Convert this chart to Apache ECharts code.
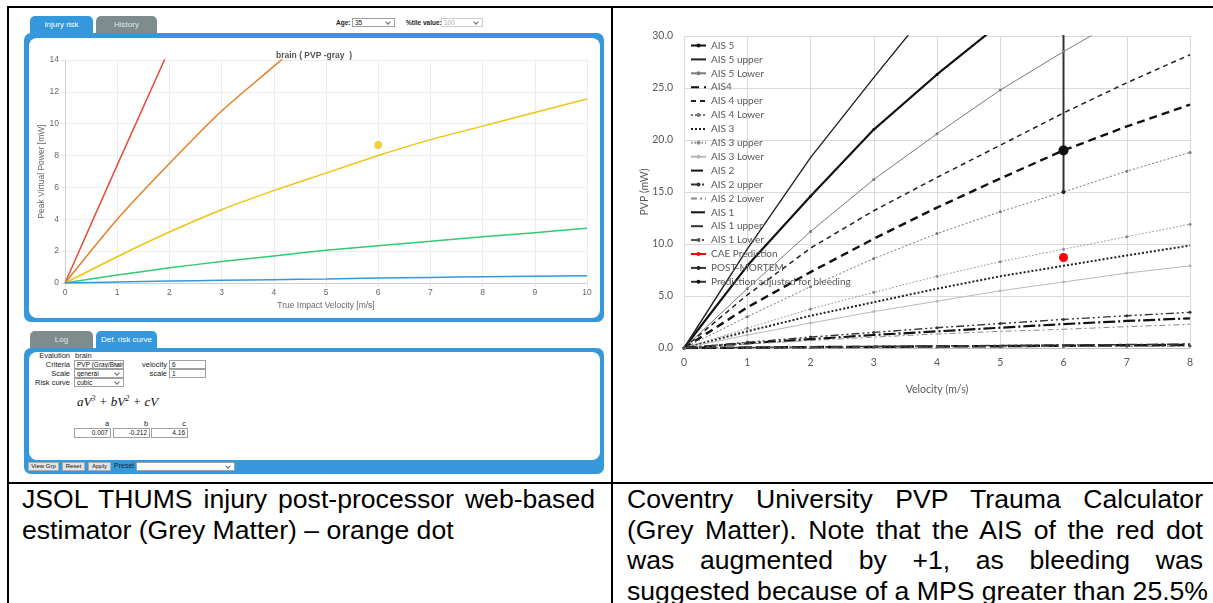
<!DOCTYPE html>
<html>
<head>
<meta charset="utf-8">
<script src="https://cdn.jsdelivr.net/npm/echarts@6/dist/echarts.min.js"></script>
<style>
html, body { margin: 0; padding: 0; background: #fff; }
body { width: 1213px; height: 603px; position: relative; overflow: hidden; font-family: "Liberation Sans", Arial, sans-serif; }
.ln { position: absolute; background: #000; }
.tab { position: absolute; height: 17px; border-radius: 5px 5px 0 0; color: #fff; font-size: 8px; text-align: center; line-height: 17px; }
.blue { background: #3498db; }
.grey { background: #7f8c8d; color: #dfe6e6; }
.panel { position: absolute; background: #3498db; border-radius: 7px; }
.inner { position: absolute; background: #fff; border-radius: 8px; }
.sel { position: absolute; border: 1px solid #a0a0a0; background: #fff; font-size: 6.5px; line-height: 7px; padding-left: 2px; box-sizing: border-box; color: #111; overflow: hidden; white-space: nowrap; }
.sel:after { content: ""; position: absolute; right: 4px; top: 1px; width: 3px; height: 3px; border-right: 1px solid #666; border-bottom: 1px solid #666; transform: rotate(45deg); }
.inp { position: absolute; border: 1px solid #a0a0a0; background: #fff; font-size: 6.5px; line-height: 7px; box-sizing: border-box; color: #111; padding: 0 2px; }
.lbl { position: absolute; font-size: 7.5px; color: #222; white-space: nowrap; line-height: 9px; }
.btn { position: absolute; background: #e4e4e4; border: 1px solid #aaa; box-sizing: border-box; font-size: 6px; line-height: 7px; text-align: center; color: #111; }
.cap { position: absolute; font-size: 26.6px; line-height: 30.5px; color: #000; white-space: nowrap; }
.just { text-align: justify; text-align-last: justify; }
.formula { position: absolute; font-family: "Liberation Serif", serif; font-style: italic; font-size: 13px; color: #111; white-space: nowrap; }
.formula sup { font-size: 8px; vertical-align: 5px; line-height: 0; }
</style>
</head>
<body>

<!-- table rules -->
<div class="ln" style="left:7px;top:6px;width:1206px;height:2px;"></div>
<div class="ln" style="left:7px;top:6px;width:2px;height:597px;"></div>
<div class="ln" style="left:611px;top:6px;width:2px;height:597px;"></div>
<div class="ln" style="left:7px;top:482px;width:1206px;height:2px;"></div>

<!-- upper panel: injury risk -->
<div class="tab blue" style="left:30px;top:16px;width:63px;">Injury risk</div>
<div class="tab grey" style="left:96px;top:16px;width:61px;">History</div>
<div class="lbl" style="left:336px;top:18px;font-size:6.5px;font-weight:bold;">Age:</div>
<div class="sel" style="left:352px;top:18px;width:43px;height:9px;">35</div>
<div class="lbl" style="left:406px;top:18px;font-size:6.5px;font-weight:bold;">%tile value:</div>
<div class="sel" style="left:441px;top:18px;width:42px;height:9px;border-color:#ccc;color:#aaa;">100</div>
<div class="panel" style="left:24px;top:33px;width:580px;height:289px;"></div>
<div class="inner" style="left:29px;top:38px;width:571px;height:280px;"></div>
<div id="left" style="position:absolute;left:28px;top:38px;width:572px;height:280px;"></div>

<!-- lower panel: risk curve definition -->
<div class="tab grey" style="left:30px;top:331px;width:63px;">Log</div>
<div class="tab blue" style="left:96px;top:331px;width:61px;">Def. risk curve</div>
<div class="panel" style="left:24px;top:348px;width:580px;height:126px;"></div>
<div class="inner" style="left:29px;top:352px;width:571px;height:108px;"></div>
<div class="lbl" style="left:20px;top:351px;width:50px;text-align:right;">Evalution</div>
<div class="lbl" style="left:75px;top:351px;">brain</div>
<div class="lbl" style="left:20px;top:360px;width:50px;text-align:right;">Criteria</div>
<div class="sel" style="left:74px;top:360px;width:50px;height:9px;">PVP (Gray/Brain</div>
<div class="lbl" style="left:20px;top:369px;width:50px;text-align:right;">Scale</div>
<div class="sel" style="left:74px;top:369px;width:50px;height:9px;">general</div>
<div class="lbl" style="left:20px;top:378px;width:50px;text-align:right;">Risk curve</div>
<div class="sel" style="left:74px;top:378px;width:50px;height:9px;">cubic</div>
<div class="lbl" style="left:120px;top:360px;width:47px;text-align:right;">velocity</div>
<div class="inp" style="left:169px;top:360px;width:37px;height:9px;">6</div>
<div class="lbl" style="left:120px;top:369px;width:47px;text-align:right;">scale</div>
<div class="inp" style="left:169px;top:369px;width:37px;height:9px;">1</div>
<div class="formula" style="left:77px;top:394px;">aV<sup>3</sup> + bV<sup>2</sup> + cV</div>
<div class="lbl" style="left:74px;top:419px;width:36px;text-align:center;padding-left:30px;box-sizing:border-box;">a</div>
<div class="lbl" style="left:113px;top:419px;width:36px;text-align:center;padding-left:30px;box-sizing:border-box;">b</div>
<div class="lbl" style="left:151px;top:419px;width:36px;text-align:center;padding-left:30px;box-sizing:border-box;">c</div>
<div class="inp" style="left:74px;top:428px;width:37px;height:10px;text-align:right;line-height:8px;">0.007</div>
<div class="inp" style="left:113px;top:428px;width:37px;height:10px;text-align:right;line-height:8px;">-0.212</div>
<div class="inp" style="left:151px;top:428px;width:37px;height:10px;text-align:right;line-height:8px;">4.16</div>
<div class="btn" style="left:28px;top:462px;width:31px;height:9px;">View Grp</div>
<div class="btn" style="left:62px;top:462px;width:23px;height:9px;">Reset</div>
<div class="btn" style="left:88px;top:462px;width:23px;height:9px;">Apply</div>
<div class="lbl" style="left:114px;top:461px;font-size:7px;color:#1a2a3a;">Preset</div>
<div class="sel" style="left:136px;top:462px;width:99px;height:9px;"></div>

<!-- right chart -->
<div id="right" style="position:absolute;left:613px;top:9px;width:598px;height:470px;"></div>

<!-- captions -->
<div class="cap just" style="left:22px;top:484px;width:573px;">JSOL THUMS injury post-processor web-based</div>
<div class="cap" style="left:22px;top:514.5px;">estimator (Grey Matter) – orange dot</div>
<div class="cap just" style="left:627px;top:484px;width:576px;">Coventry University PVP Trauma Calculator</div>
<div class="cap just" style="left:627px;top:514.5px;width:576px;">(Grey Matter). Note that the AIS of the red dot</div>
<div class="cap just" style="left:627px;top:545px;width:576px;">was augmented by +1, as bleeding was</div>
<div class="cap just" style="left:627px;top:575.5px;width:576px;">suggested because of a MPS greater than 25.5%</div>

<script>
// ---- left chart (JSOL web estimator) ----
var jsolVel = [0, 1, 2, 3, 4, 5, 6, 7, 8, 9, 10];
var jsolRed = [0, 7.4, 14.7];
var jsolOrange = [0, 4.0, 7.5, 10.8, 13.6, 16.4];
var jsolYellow = [0, 1.65, 3.2, 4.6, 5.8, 6.9, 8.0, 9.0, 9.85, 10.7, 11.55];
var jsolGreen = [0, 0.5, 0.95, 1.35, 1.7, 2.05, 2.34, 2.62, 2.9, 3.16, 3.43];
var jsolBlue = [0, 0.07, 0.12, 0.17, 0.21, 0.25, 0.31, 0.35, 0.39, 0.43, 0.46];
var jsolDot = [6, 8.66];

// ---- right chart (Coventry PVP calculator) ----
var velocity = [0, 1, 2, 3, 4, 5, 6, 7, 8];
var ais5 = [0, 7.9, 14.6, 21.0, 26.3, 31.2];
var ais5Upper = [0, 9.5, 18.3, 26.0, 33.5];
var ais5Lower = [0, 5.7, 11.2, 16.2, 20.6, 24.8, 28.5, 32.0];
var ais4 = [0, 3.9, 7.3, 10.5, 13.5, 16.3, 19.0, 21.3, 23.4];
var ais4Upper = [0, 5.1, 9.6, 13.2, 16.4, 19.5, 22.6, 25.5, 28.2];
var ais4Lower = [0, 3.0, 5.9, 8.6, 11.0, 13.1, 15.0, 17.0, 18.8];
var ais3 = [0, 1.6, 3.1, 4.4, 5.7, 6.9, 7.9, 8.9, 9.85];
var ais3Upper = [0, 1.9, 3.75, 5.35, 6.9, 8.3, 9.5, 10.7, 11.9];
var ais3Lower = [0, 1.25, 2.4, 3.5, 4.5, 5.5, 6.35, 7.2, 7.9];
var ais2 = [0, 0.45, 0.85, 1.25, 1.6, 1.95, 2.3, 2.6, 2.85];
var ais2Upper = [0, 0.55, 1.05, 1.5, 1.95, 2.35, 2.75, 3.1, 3.43];
var ais2Lower = [0, 0.38, 0.72, 1.05, 1.35, 1.6, 1.8, 2.05, 2.28];
var ais1 = [0, 0.04, 0.08, 0.11, 0.15, 0.18, 0.22, 0.26, 0.29];
var ais1Upper = [0, 0.05, 0.1, 0.15, 0.2, 0.24, 0.29, 0.33, 0.38];
var ais1Lower = [0, 0.03, 0.05, 0.08, 0.1, 0.12, 0.14, 0.17, 0.19];
var caePrediction = [[6, 8.7]];
var postMortem = [[6, 15.0], [6, 31]];
var adjustedBleeding = [[6, 19.0]];

function pairs(xs, ys) {
    return ys.map(function (y, i) { return [xs[i], y]; });
}

var leftChart = echarts.init(document.getElementById('left'));
function jsolLine(name, vals, color) {
    return {
        name: name, type: 'line', data: pairs(jsolVel, vals), smooth: 0.2,
        symbol: 'none', lineStyle: { color: color, width: 1.5 }, clip: true
    };
}
leftChart.setOption({
    animation: false,
    title: {
        text: 'brain ( PVP -gray  )', left: 243, top: 8,
        textStyle: { fontSize: 8.5, fontWeight: 'bold', color: '#555', fontFamily: 'Liberation Sans' }
    },
    grid: { left: 37, right: 13, top: 22, bottom: 35, containLabel: false, outerBoundsMode: 'none' },
    xAxis: {
        type: 'value', min: 0, max: 10, interval: 1,
        name: 'True Impact Velocity [m/s]', nameLocation: 'middle', nameGap: 18,
        nameMoveOverlap: false,
        nameTextStyle: { fontSize: 8.5, color: '#666', fontFamily: 'Liberation Sans' },
        axisLine: { lineStyle: { color: '#cfcfcf' } },
        axisTick: { show: true, length: 4, lineStyle: { color: '#e2e2e2' } },
        axisLabel: { fontSize: 8.5, color: '#666', margin: 5, fontFamily: 'Liberation Sans' },
        splitLine: { lineStyle: { color: '#ececec' } }
    },
    yAxis: {
        type: 'value', min: 0, max: 14, interval: 2,
        name: 'Peak Virtual Power [mW]', nameLocation: 'middle', nameGap: 19,
        nameMoveOverlap: false,
        nameTextStyle: { fontSize: 8.5, color: '#666', fontFamily: 'Liberation Sans' },
        axisLine: { show: true, lineStyle: { color: '#cfcfcf' } },
        axisTick: { show: true, length: 4, lineStyle: { color: '#e2e2e2' } },
        axisLabel: { fontSize: 8.5, color: '#666', margin: 6, fontFamily: 'Liberation Sans' },
        splitLine: { lineStyle: { color: '#ececec' } }
    },
    series: [
        jsolLine('red', jsolRed, '#e74c3c'),
        jsolLine('orange', jsolOrange, '#e67e22'),
        jsolLine('yellow', jsolYellow, '#f1c40f'),
        jsolLine('green', jsolGreen, '#2ecc71'),
        jsolLine('blue', jsolBlue, '#3498db'),
        {
            name: 'case', type: 'scatter', data: [jsolDot], symbolSize: 8,
            itemStyle: { color: '#f1c40f' }
        }
    ]
});

var rightChart = echarts.init(document.getElementById('right'));
function aisLine(name, vals, width, color, dash, marker) {
    return {
        name: name, type: 'line', data: pairs(velocity, vals), clip: true,
        symbol: marker ? 'circle' : 'none', symbolSize: 3, showSymbol: !!marker,
        itemStyle: { color: color },
        lineStyle: { color: color, width: width, type: dash }
    };
}
var aisSeries = [
    aisLine('AIS 5', ais5, 2.2, '#111', 'solid', true),
    aisLine('AIS 5 upper', ais5Upper, 1.4, '#222', 'solid', false),
    aisLine('AIS 5 Lower', ais5Lower, 1, '#7a7a7a', 'solid', true),
    aisLine('AIS4', ais4, 2.4, '#111', [8, 5], false),
    aisLine('AIS 4 upper', ais4Upper, 1.5, '#222', [5, 4], false),
    aisLine('AIS 4 Lower', ais4Lower, 1, '#777', [2, 2], true),
    aisLine('AIS 3', ais3, 2, '#222', [2, 2], false),
    aisLine('AIS 3 upper', ais3Upper, 1, '#8a8a8a', [1.5, 2], true),
    aisLine('AIS 3 Lower', ais3Lower, 1, '#b8b8b8', 'solid', true),
    aisLine('AIS 2', ais2, 2.2, '#111', [12, 3, 2, 3], false),
    aisLine('AIS 2 upper', ais2Upper, 1.4, '#333', [8, 3, 2, 3, 2, 3], true),
    aisLine('AIS 2 Lower', ais2Lower, 1, '#888', [6, 3, 2, 3], false),
    aisLine('AIS 1', ais1, 2.5, '#111', [14, 4], false),
    aisLine('AIS 1 upper', ais1Upper, 1.5, '#333', [12, 3, 3, 3], false),
    aisLine('AIS 1 Lower', ais1Lower, 1, '#555', [8, 3, 2, 3, 2, 3], true),
    {
        name: 'CAE Prediction', type: 'line', data: caePrediction,
        symbol: 'circle', symbolSize: 9,
        itemStyle: { color: '#ff0000' }, lineStyle: { color: '#ff0000', width: 3 }
    },
    {
        name: 'POST-MORTEM', type: 'line', data: postMortem, clip: true,
        symbol: 'circle', symbolSize: 4,
        itemStyle: { color: '#222' }, lineStyle: { color: '#333', width: 2 }
    },
    {
        name: 'Prediction adjusted for bleeding', type: 'line', data: adjustedBleeding,
        symbol: 'circle', symbolSize: 10,
        itemStyle: { color: '#111' }, lineStyle: { color: '#333', width: 1 }
    }
];
// legend marker only where the Excel series has one
var legendItems = aisSeries.map(function (s) {
    var item = { name: s.name };
    if (s.symbol === 'none') item.itemStyle = { opacity: 0 };
    return item;
});

rightChart.setOption({
    animation: false,
    textStyle: { fontFamily: 'Lato' },
    legend: {
        orient: 'vertical', left: 72, top: 26,
        itemWidth: 15, itemHeight: 5, itemGap: 2.9,
        data: legendItems,
        textStyle: { fontSize: 10, color: '#595959', lineHeight: 11, fontFamily: 'Lato' },
        selectedMode: false
    },
    grid: { left: 71, right: 21, top: 27, bottom: 131, containLabel: false, outerBoundsMode: 'none' },
    xAxis: {
        type: 'value', min: 0, max: 8, interval: 1,
        name: 'Velocity (m/s)', nameLocation: 'middle', nameGap: 36,
        nameMoveOverlap: false,
        nameTextStyle: { fontSize: 10.5, color: '#595959' },
        axisLine: { lineStyle: { color: '#bfbfbf' } },
        axisTick: { show: false },
        axisLabel: { fontSize: 10.5, color: '#595959', margin: 9 },
        splitLine: { lineStyle: { color: '#d9d9d9' } }
    },
    yAxis: {
        type: 'value', min: 0, max: 30, interval: 5,
        name: 'PVP (mW)', nameLocation: 'middle', nameGap: 34,
        nameMoveOverlap: false,
        nameTextStyle: { fontSize: 10.5, color: '#595959' },
        axisLine: { show: false },
        axisTick: { show: false },
        axisLabel: { fontSize: 10.5, color: '#595959', margin: 11, formatter: function (v) { return v.toFixed(1); } },
        splitLine: { lineStyle: { color: '#d9d9d9' } }
    },
    series: aisSeries
});
</script>
</body>
</html>
